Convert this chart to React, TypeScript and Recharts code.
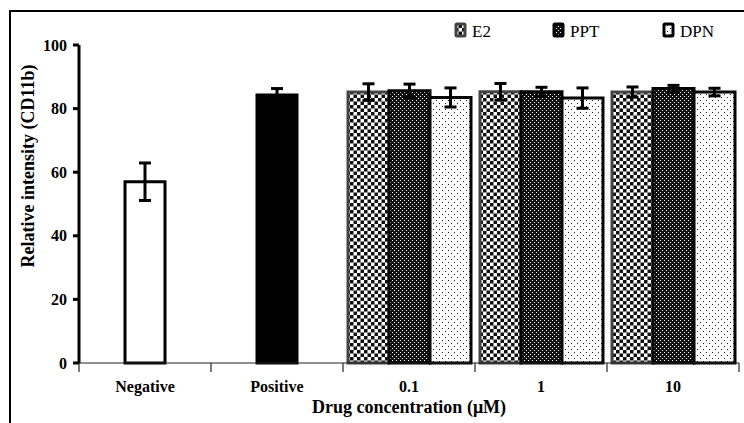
import { BarChart, Bar, XAxis, YAxis, ErrorBar, Cell } from "recharts";

const categories = ["Negative", "Positive", "0.1", "1", "10"];
const controlValues = [57.0, 84.3, null, null, null];
const controlErrors = [5.9, 2.0, null, null, null];
const e2Values = [null, null, 85.2, 85.3, 85.2];
const e2Errors = [null, null, 2.6, 2.6, 1.6];
const pptValues = [null, null, 85.6, 85.3, 86.3];
const pptErrors = [null, null, 2.1, 1.4, 1.0];
const dpnValues = [null, null, 83.5, 83.3, 85.2];
const dpnErrors = [null, null, 3.0, 3.2, 1.2];
const yTicks = [0, 20, 40, 60, 80, 100];
const legendNames = ["E2", "PPT", "DPN"];

const rows = categories.map((name, i) => ({
  name,
  ctrl: controlValues[i],
  ctrlErr: controlErrors[i],
  e2: e2Values[i],
  e2Err: e2Errors[i],
  ppt: pptValues[i],
  pptErr: pptErrors[i],
  dpn: dpnValues[i],
  dpnErr: dpnErrors[i],
}));

const FONT = "'Liberation Serif', 'Times New Roman', serif";

// boundary ticks between categories + bold label
function CategoryTick(props: any) {
  const { x, y, payload, index, visibleTicksCount } = props;
  const half = payload.offset ?? 66;
  return (
    <g>
      <line x1={x - half} x2={x - half} y1={y} y2={y + 9} stroke="#222" strokeWidth={1.2} />
      {index === visibleTicksCount - 1 && (
        <line x1={x + half} x2={x + half} y1={y} y2={y + 9} stroke="#222" strokeWidth={1.2} />
      )}
      <text x={x} y={y + 29} textAnchor="middle" fontFamily={FONT} fontSize={16} fontWeight="bold" fill="#000">
        {payload.value}
      </text>
    </g>
  );
}

const patternFill = ["url(#pE2)", "url(#pPPT)", "url(#pDPN)"];
const legendStroke = ["#444", "#000", "#000"];
const legendX = [456, 554, 664];

export default function App() {
  return (
    <div style={{ position: "absolute", left: 0, top: 0, width: 744, height: 423, overflow: "hidden", background: "#fff" }}>
      {/* figure frame, top and left */}
      <div style={{ position: "absolute", left: 9, top: 10, width: 735, height: 2, background: "#000" }} />
      <div style={{ position: "absolute", left: 9, top: 10, width: 2, height: 413, background: "#000" }} />

      <BarChart
        width={744}
        height={423}
        data={rows}
        margin={{ top: 45, right: 5, bottom: 0, left: 0 }}
        barCategoryGap={5}
        barGap={0}
      >
        <XAxis
          dataKey="name"
          height={60}
          stroke="#222"
          strokeWidth={1.2}
          tickLine={false}
          tickSize={0}
          tickMargin={0}
          tick={<CategoryTick />}
          label={{
            content: (p: any) => {
              const vb = p.viewBox;
              return (
                <text x={vb.x + vb.width / 2} y={vb.y + 50} textAnchor="middle" fontFamily={FONT} fontSize={18} fontWeight="bold" fill="#000">
                  Drug concentration (μM)
                </text>
              );
            },
          }}
        />
        <XAxis xAxisId="ctrl" dataKey="name" hide />
        <YAxis
          width={79}
          domain={[0, 100]}
          ticks={yTicks}
          stroke="#000"
          strokeWidth={3}
          tickSize={6}
          tickMargin={6}
          tick={{ fill: "#000", fontSize: 16, fontWeight: "bold", fontFamily: FONT }}
          label={{
            content: (p: any) => {
              const vb = p.viewBox;
              const cx = vb.x + 28;
              const cy = 166;
              return (
                <text x={cx} y={cy} transform={`rotate(-90 ${cx} ${cy})`} textAnchor="middle" dominantBaseline="central" fontFamily={FONT} fontSize={18} fontWeight="bold" fill="#000">
                  Relative intensity (CD11b)
                </text>
              );
            },
          }}
        />
        <Bar dataKey="ctrl" xAxisId="ctrl" barSize={40} stroke="#000" strokeWidth={3} isAnimationActive={false}>
          {rows.map((r) => (
            <Cell key={r.name} fill={r.name === "Negative" ? "#fff" : "#000"} />
          ))}
          <ErrorBar dataKey="ctrlErr" direction="y" width={6} stroke="#000" strokeWidth={3} />
        </Bar>
        <Bar dataKey="e2" name="E2" fill="url(#pE2)" stroke="#444" strokeWidth={3} isAnimationActive={false}>
          <ErrorBar dataKey="e2Err" direction="y" width={6} stroke="#000" strokeWidth={3} />
        </Bar>
        <Bar dataKey="ppt" name="PPT" fill="url(#pPPT)" stroke="#000" strokeWidth={3} isAnimationActive={false}>
          <ErrorBar dataKey="pptErr" direction="y" width={6} stroke="#000" strokeWidth={3} />
        </Bar>
        <Bar dataKey="dpn" name="DPN" fill="url(#pDPN)" stroke="#000" strokeWidth={3} isAnimationActive={false}>
          <ErrorBar dataKey="dpnErr" direction="y" width={6} stroke="#000" strokeWidth={3} />
        </Bar>
      </BarChart>

      {/* legend + shared patterns */}
      <svg width={744} height={50} style={{ position: "absolute", left: 0, top: 0, pointerEvents: "none" }}>
        <defs>
          <pattern id="pE2" width={7} height={7} patternUnits="userSpaceOnUse">
            <rect width={7} height={7} fill="#fff" />
            <rect width={3.5} height={3.5} fill="#111" />
            <rect x={3.5} y={3.5} width={3.5} height={3.5} fill="#111" />
          </pattern>
          <pattern id="pPPT" width={4} height={4} patternUnits="userSpaceOnUse">
            <rect width={4} height={4} fill="#111" />
            <rect x={0} y={0} width={1} height={1} fill="#fff" />
            <rect x={2} y={2} width={1} height={1} fill="#fff" />
          </pattern>
          <pattern id="pDPN" width={6} height={6} patternUnits="userSpaceOnUse">
            <rect width={6} height={6} fill="#fff" />
            <rect x={1} y={1} width={1} height={1} fill="#222" />
            <rect x={4} y={4} width={1} height={1} fill="#222" />
          </pattern>
        </defs>
        {legendNames.map((name, i) => (
          <g key={name}>
            <rect x={legendX[i]} y={24} width={9} height={12} fill={patternFill[i]} stroke={legendStroke[i]} strokeWidth={3} rx={1} />
            <text x={legendX[i] + 16} y={37} fontFamily={FONT} fontSize={17} fill="#000">
              {name}
            </text>
          </g>
        ))}
      </svg>
    </div>
  );
}
